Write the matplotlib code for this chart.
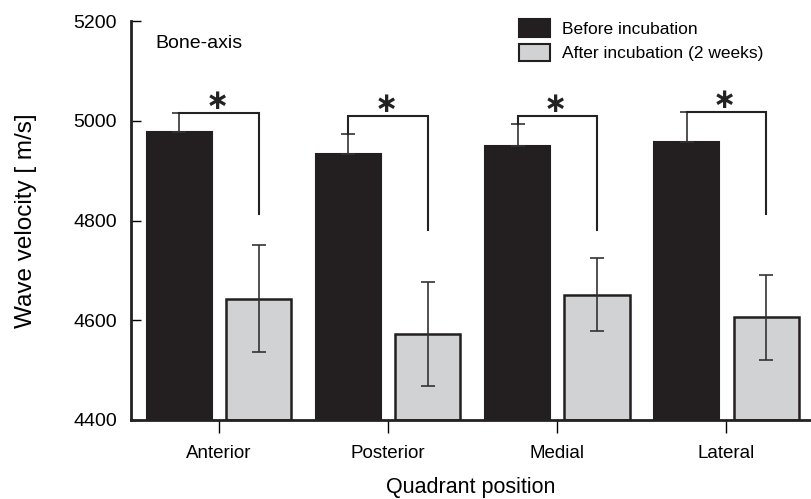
import matplotlib
matplotlib.use("Agg")
import matplotlib.pyplot as plt
import numpy as np
from matplotlib.patches import Patch

categories = ["Anterior", "Posterior", "Medial", "Lateral"]
before = [4978, 4934, 4950, 4958]
before_err = [38, 40, 43, 60]
after = [4643, 4572, 4651, 4606]
after_err = [107, 104, 73, 85]
bracket_top = [5015, 5010, 5010, 5018]
bracket_end = [4814, 4780, 4780, 4814]

plt.rcParams['font.family'] = ['Liberation Sans', 'DejaVu Sans']

fig = plt.figure(figsize=(8.11, 4.99), dpi=100)
ax = fig.add_axes([131/811, 79/499, 1 - 131/811, 399/499])

x = np.arange(len(categories))
w = 0.385
off = 0.235
black = "#231f20"
grey = "#d1d2d4"

ax.bar(x - off, [b - 4400 for b in before], w, bottom=4400, color=black,
       edgecolor=black, linewidth=1.5, zorder=2)
ax.bar(x + off, [a - 4400 for a in after], w, bottom=4400, color=grey,
       edgecolor=black, linewidth=1.8, zorder=2)
ax.errorbar(x - off, before, yerr=[[0]*4, before_err], fmt='none',
            ecolor="#333333", elinewidth=1.2, capsize=5, capthick=1.2, zorder=3)
ax.errorbar(x + off, after, yerr=after_err, fmt='none',
            ecolor="#333333", elinewidth=1.2, capsize=5, capthick=1.2, zorder=3)

for i in range(len(categories)):
    top_err = before[i] + before_err[i]
    ax.plot([x[i] - off, x[i] - off, x[i] + off, x[i] + off],
            [top_err, bracket_top[i], bracket_top[i], bracket_end[i]],
            color="#222222", lw=1.5, zorder=3, solid_joinstyle='miter')
    ax.text(x[i] - 0.01, bracket_top[i] + 24, "\u2217", ha='center', va='center',
            fontsize=20, fontweight='bold', color="#222222", family='DejaVu Sans')

ax.set_xlim(-0.52, 3.5)
ax.set_ylim(4400, 5200)
ax.set_yticks([4400, 4600, 4800, 5000, 5200])
ax.set_xticks(x)
ax.set_xticklabels(categories, fontsize=13.5)
ax.tick_params(axis='y', direction='in', length=7, width=1, labelsize=14, pad=10)
ax.tick_params(axis='x', direction='out', length=9, width=1, pad=9)

for s in ['top', 'right']:
    ax.spines[s].set_visible(False)
for s in ['left', 'bottom']:
    ax.spines[s].set_linewidth(2)
    ax.spines[s].set_color("#222222")

ax.set_ylabel("Wave velocity [ m/s]", fontsize=17.5, labelpad=26)
ax.set_xlabel("Quadrant position", fontsize=15.5, labelpad=11)
ax.text(155/811, 1 - 44/499, "Bone-axis", transform=fig.transFigure, fontsize=14,
        ha='left', va='center')

handles = [Patch(facecolor=black, edgecolor=black, linewidth=1.5),
           Patch(facecolor=grey, edgecolor=black, linewidth=1.5)]
leg = ax.legend(handles, ["Before incubation", "After incubation (2 weeks)"],
                loc='upper left', bbox_to_anchor=(512/811, 1 - 12/499),
                bbox_transform=fig.transFigure, frameon=False, fontsize=12.5,
                handlelength=1.8, handleheight=1.2, labelspacing=0.4,
                handletextpad=0.7, borderaxespad=0)

fig.savefig("out.png", dpi=100)
